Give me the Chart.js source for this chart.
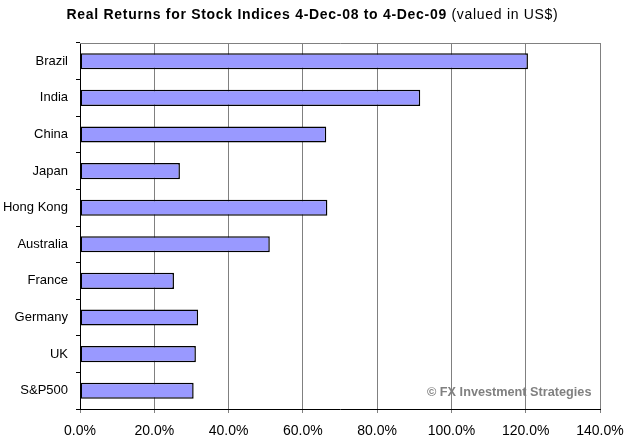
<!DOCTYPE html>
<html>
<head>
<meta charset="utf-8">
<script src="https://cdn.jsdelivr.net/npm/chart.js@4"></script>
<style>
  html, body { margin: 0; padding: 0; background: #fff; }
  #wrap { position: relative; width: 625px; height: 444px; }
  #title { position: absolute; left: 0; top: 6px; width: 625px; text-align: center;
           font-family: "Liberation Sans", Arial, sans-serif; font-size: 14px; letter-spacing: 0.7px; color: #000; }
  #title b { font-weight: bold; }
  #mark { position: absolute; left: 427px; top: 385px; font-family: "Liberation Sans", Arial, sans-serif;
          font-size: 12.7px; font-weight: bold; color: #808080; white-space: nowrap; }
  canvas { position: absolute; left: 0; top: 0; }
</style>
</head>
<body>
<div id="wrap">
  <canvas id="c" width="625" height="444"></canvas>
  <div id="title"><b>Real Returns for Stock Indices 4-Dec-08 to 4-Dec-09</b> (valued in US$)</div>
  <div id="mark">© FX Investment Strategies</div>
</div>
<script>
const categories = ["Brazil", "India", "China", "Japan", "Hong Kong", "Australia", "France", "Germany", "UK", "S&P500"];
const returnsPct = [120.6, 91.6, 66.3, 26.9, 66.6, 51.1, 25.3, 31.8, 31.2, 30.6];
const xTicks = [0, 20, 40, 60, 80, 100, 120, 140];

const frameTop = {
  id: 'frameTop',
  afterDraw(chart) {
    const a = chart.chartArea, ctx = chart.ctx;
    ctx.save();
    ctx.strokeStyle = '#808080';
    ctx.lineWidth = 1;
    ctx.beginPath();
    ctx.moveTo(a.left, Math.round(a.top) + 0.5);
    ctx.lineTo(a.right + 0.5, Math.round(a.top) + 0.5);
    ctx.stroke();
    ctx.restore();
  }
};

new Chart(document.getElementById('c'), {
  type: 'bar',
  data: {
    labels: categories,
    datasets: [{
      data: returnsPct,
      backgroundColor: '#9999FF',
      borderColor: '#000000',
      borderWidth: 1.5,
      borderSkipped: false,
      categoryPercentage: 1.0,
      barPercentage: 0.44
    }]
  },
  options: {
    indexAxis: 'y',
    responsive: false,
    animation: false,
    events: [],
    layout: { padding: { top: 43, right: 25, left: 0, bottom: 0 } },
    plugins: { legend: { display: false }, tooltip: { enabled: false }, title: { display: false } },
    scales: {
      x: {
        min: 0, max: 140,
        afterBuildTicks(scale) { scale.ticks = xTicks.map(v => ({ value: v })); },
        afterFit(scale) { scale.height = 35; scale.paddingLeft = 0; scale.paddingRight = 0; },
        ticks: {
          color: '#000',
          font: { family: '"Liberation Sans", Arial, sans-serif', size: 14 },
          padding: 10,
          maxRotation: 0,
          callback: v => v.toFixed(1) + '%'
        },
        grid: { color: '#808080', lineWidth: 1, tickLength: 4, drawTicks: true },
        border: { color: '#000', width: 1 }
      },
      y: {
        afterFit(scale) { scale.width = 80; scale.paddingTop = 0; scale.paddingBottom = 0; },
        ticks: {
          color: '#000',
          font: { family: '"Liberation Sans", Arial, sans-serif', size: 13 },
          padding: 8
        },
        grid: { offset: true, drawOnChartArea: false, color: '#000', tickLength: 4 },
        border: { color: '#000', width: 1 }
      }
    }
  },
  plugins: [frameTop]
});
</script>
</body>
</html>
